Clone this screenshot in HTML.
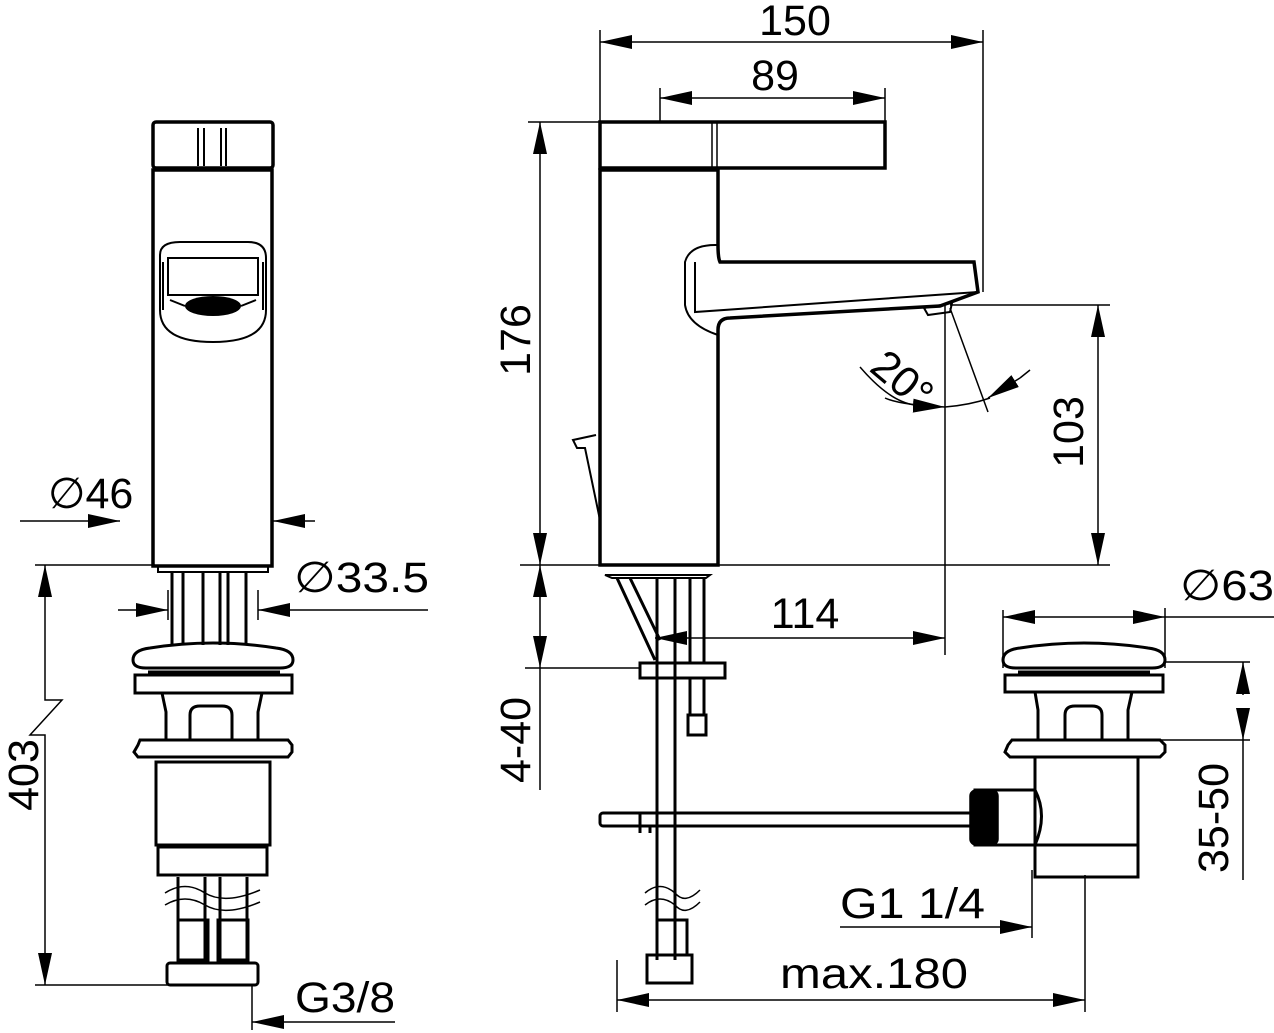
<!DOCTYPE html>
<html><head><meta charset="utf-8"><style>html,body{margin:0;padding:0;background:#fff}svg{display:block}text{font-family:"Liberation Sans",sans-serif;font-size:43px;fill:#000}</style></head><body>
<svg width="1274" height="1033" viewBox="0 0 1274 1033" xmlns="http://www.w3.org/2000/svg">
<defs>
<marker id="a" viewBox="0 0 32 14" refX="32" refY="7" markerWidth="32" markerHeight="14" markerUnits="userSpaceOnUse" orient="auto-start-reverse"><path d="M0 0L32 7L0 14Z" fill="#000"/></marker>
</defs>
<g fill="none" stroke="#000" stroke-width="1.5">
<g stroke-width="3.5">
<rect x="153" y="122" width="120" height="46" rx="3"/>
<rect x="153" y="170" width="119" height="396"/>
<path d="M160 255 Q160 242 180 242 L248 242 Q266 242 266 258 L266 310 Q266 342 213 342 Q160 342 160 310 Z" stroke-width="2"/>
<path d="M168 258 L258 258 L258 295 L168 295 Z" stroke-width="2"/>
<path d="M163 262 L163 310 M263 262 L263 310" stroke-width="2"/>
</g>
<ellipse cx="213" cy="306" rx="28" ry="10" fill="#000" stroke="none"/>
<path d="M170 300 L185 306 M256 300 L241 306 M198 128 V166 M204 128 V166 M221 128 V166 M226 128 V166" stroke-width="2"/>
<rect x="158" y="566" width="110" height="6" stroke-width="2"/>
<path d="M172 572 V645 M183 572 V645 M203 572 V645 M220 572 V645 M228 572 V645 M246 572 V645" stroke-width="3"/>
<g stroke-width="3">
<path d="M133 660 Q133 650 150 648 Q213 638 276 648 Q293 650 293 660 Q293 668 280 668 L146 668 Q133 668 133 660Z"/>
<path d="M148 672 L280 672" />
<rect x="135" y="675" width="157" height="18"/>
<path d="M162 693 L262 693 L258 712 L258 740 M162 693 L166 712 L166 740"/>
<path d="M190 740 V715 Q190 706 200 706 L222 706 Q232 706 232 715 V740"/>
<path d="M138 745 L140 740 L288 740 L292 745 L292 752 L288 757 L138 757 L134 752Z"/>
<rect x="156" y="762" width="114" height="83"/>
<rect x="158" y="847" width="109" height="28"/>
<path d="M178 877 V960 M205 877 V960 M220 877 V960 M247 877 V960"/>
<path d="M165 893 Q185 880 205 893 Q225 905 260 890 M165 905 Q185 893 205 905 Q225 917 260 902" stroke-width="1.5"/>
<rect x="178" y="920" width="30" height="40"/><rect x="218" y="920" width="30" height="40"/>
<rect x="167" y="963" width="91" height="22" rx="3"/>
</g>
<path d="M20 521 H120" marker-end="url(#a)"/><path d="M315 521 H273" marker-end="url(#a)"/>
<path d="M35 565 H155 M35 985 H170"/>
<path d="M45 600 V565" marker-end="url(#a)"/>
<path d="M45 600 V700 L62 700 L30 735 L45 735 V950"/>
<path d="M45 950 V985" marker-end="url(#a)"/>
<path d="M118 610 H168" marker-end="url(#a)"/><path d="M428 610 H258" marker-end="url(#a)"/>
<path d="M168 590 V620 M258 590 V620"/>
<path d="M252 985 V1030"/><path d="M395 1022 H252" marker-end="url(#a)"/>

<g stroke-width="3.5">
<path d="M600 122 H885 V168 H600 Z"/>
<path d="M600 170 V565 H718 V330 Q718 318 730 318 L940 306 L978 292 L974 262 L720 262 Q718 258 718 245 V170 Z"/>
<path d="M718 245 Q690 244 685 262 L685 305 Q688 325 718 335" stroke-width="2"/>
<path d="M695 262 V312 L978 292" stroke-width="2"/>
<path d="M605 575 H710 L706 578 H612 Z" stroke-width="2"/>
<path d="M596 435 L573 440 L577 448 L585 448 L600 520" stroke-width="2"/>
</g>
<path d="M717 122 V168 M712 122 V168" stroke-width="1.5"/>
<path d="M924 308 L952 303 L950 312 L928 315Z" stroke-width="2"/>
<g stroke-width="3">
<path d="M617 578 L655 660 M630 578 L660 640 M657 578 V960 M675 578 V960 M690 578 V663 M704 578 V663"/>
<rect x="640" y="663" width="85" height="15"/>
<path d="M690 678 V715 M704 678 V715"/><rect x="688" y="715" width="18" height="20"/>
<rect x="600" y="813" width="375" height="13" rx="3"/>
<path d="M640 813 V833 M650 826 V833"/>
<path d="M645 893 Q660 880 675 893 Q685 905 700 890 M645 905 Q660 893 675 905 Q685 917 700 902" stroke-width="1.5"/>
<rect x="657" y="920" width="30" height="35"/><rect x="647" y="955" width="45" height="28"/>
<path d="M1003 660 Q1003 650 1020 648 Q1084 638 1148 648 Q1165 650 1165 660 Q1165 668 1152 668 L1016 668 Q1003 668 1003 660Z"/>
<path d="M1018 672 L1150 672"/>
<rect x="1005" y="675" width="158" height="17"/>
<path d="M1035 692 H1132 L1128 710 V740 M1035 692 L1038 710 V740"/>
<path d="M1065 740 V715 Q1065 706 1075 706 L1092 706 Q1102 706 1102 715 V740"/>
<path d="M1008 745 L1012 740 L1160 740 L1165 745 L1165 752 L1160 757 L1010 757 L1005 752Z"/>
<path d="M1035 757 V845 M1138 757 V845"/>
<rect x="1035" y="845" width="103" height="32"/>
<path d="M975 790 H1035 Q1048 815 1035 845 H975 Z"/>
</g>
<rect x="970" y="790" width="28" height="55" rx="6" fill="#000"/>
<path d="M600 122 V30 M983 292 V30 M660 122 V88 M885 122 V88"/>
<path d="M640 42 H600" marker-end="url(#a)"/><path d="M640 42 H940"/><path d="M940 42 H983" marker-end="url(#a)"/>
<path d="M700 98 H660" marker-end="url(#a)"/><path d="M700 98 H850"/><path d="M850 98 H885" marker-end="url(#a)"/>
<path d="M528 122 H600 M520 565 H1110 M950 305 H1110 M525 668 H640"/>
<path d="M540 160 V122" marker-end="url(#a)"/><path d="M540 160 V530"/><path d="M540 530 V565" marker-end="url(#a)"/>
<path d="M1098 340 V305" marker-end="url(#a)"/><path d="M1098 340 V530"/><path d="M1098 530 V565" marker-end="url(#a)"/>
<path d="M540 600 V565" marker-end="url(#a)"/><path d="M540 600 V630"/><path d="M540 630 V668" marker-end="url(#a)"/><path d="M540 668 V790"/>
<path d="M945 305 V655 M950 308 L988 412"/>
<path d="M860 367 Q890 402 915 405" /><path d="M885 398 Q900 405 945 407" marker-end="url(#a)"/>
<path d="M945 407 Q970 405 990 398"/><path d="M1020 378 L988 398" marker-end="url(#a)"/><path d="M1020 378 L1030 370"/>
<path d="M690 638 H655" marker-end="url(#a)"/><path d="M690 638 H910"/><path d="M910 638 H945" marker-end="url(#a)"/>
<path d="M1003 610 V668 M1165 608 V668"/>
<path d="M1040 617 H1003" marker-end="url(#a)"/><path d="M1040 617 H1130"/><path d="M1130 617 H1165" marker-end="url(#a)"/><path d="M1165 617 H1274"/>
<path d="M1165 662 H1250 M1140 740 H1250"/>
<path d="M1243 695 V662" marker-end="url(#a)"/><path d="M1243 708 V740" marker-end="url(#a)"/><path d="M1243 740 V880"/>
<path d="M840 927 H1032" marker-end="url(#a)"/><path d="M1032 870 V938 M1085 875 V1012 M617 960 V1012"/>
<path d="M650 1000 H617" marker-end="url(#a)"/><path d="M650 1000 H1050"/><path d="M1050 1000 H1085" marker-end="url(#a)"/>
</g>
<text x="48" y="508">∅46</text>
<text x="294" y="592" textLength="135" lengthAdjust="spacingAndGlyphs">∅33.5</text>
<text x="295" y="1012" textLength="100" lengthAdjust="spacingAndGlyphs">G3/8</text>
<text transform="translate(38,775) rotate(-90)" text-anchor="middle">403</text>
<text x="795" y="35" text-anchor="middle">150</text>
<text x="775" y="90" text-anchor="middle">89</text>
<text transform="translate(530,340) rotate(-90)" text-anchor="middle">176</text>
<text transform="translate(1083,432) rotate(-90)" text-anchor="middle">103</text>
<text transform="translate(530,740) rotate(-90)" text-anchor="middle">4-40</text>
<text transform="translate(1228,818) rotate(-90)" text-anchor="middle">35-50</text>
<text x="805" y="628" text-anchor="middle">114</text>
<text x="1180" y="600" textLength="94" lengthAdjust="spacingAndGlyphs">∅63</text>
<text x="840" y="918" textLength="145" lengthAdjust="spacingAndGlyphs">G1 1/4</text>
<text x="780" y="988" textLength="188" lengthAdjust="spacingAndGlyphs">max.180</text>
<text transform="translate(868,370) rotate(40)">20°</text>
</svg>
</body></html>
